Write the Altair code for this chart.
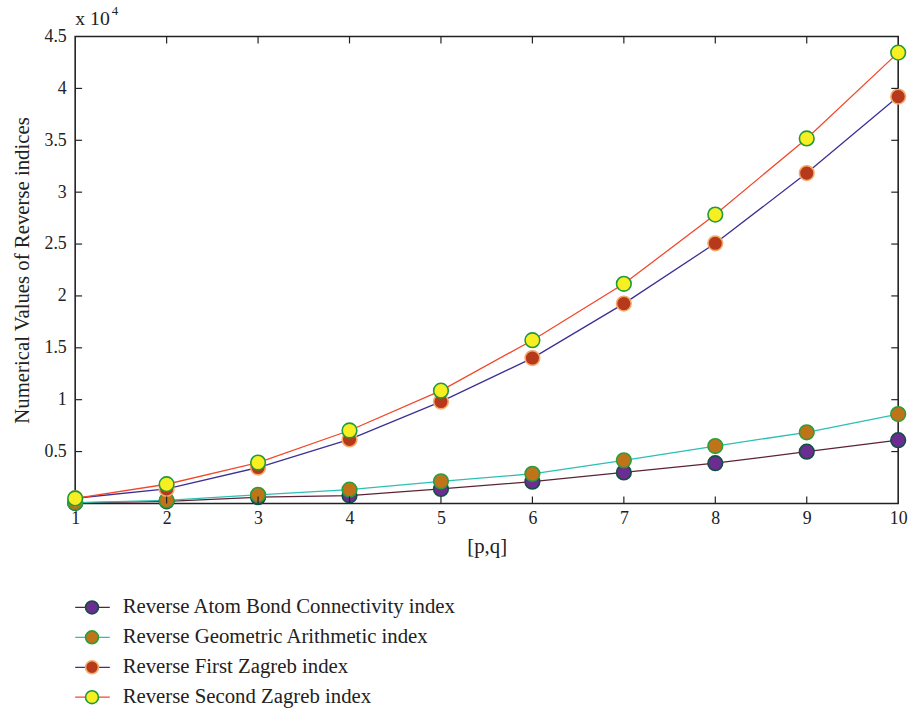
import altair as alt
import pandas as pd

# [p,q] positions along the x axis
pq = [1, 2, 3, 4, 5, 6, 7, 8, 9, 10]

series_names = [
    "Reverse Atom Bond Connectivity index",
    "Reverse Geometric Arithmetic index",
    "Reverse First Zagreb index",
    "Reverse Second Zagreb index",
]

abc_vals = [50, 200, 600, 760, 1400, 2100, 2990, 3880, 4990, 6100]
ga_vals = [70, 290, 830, 1330, 2130, 2860, 4160, 5530, 6860, 8610]
fz_vals = [500, 1400, 3460, 6170, 9820, 14010, 19260, 25070, 31840, 39210]
sz_vals = [480, 1850, 3940, 7030, 10870, 15730, 21170, 27840, 35180, 43450]

line_colors = ["#5b2333", "#2bbfb5", "#3c2f96", "#f2482a"]
fill_colors = ["#6b2d8f", "#c0741a", "#b5391a", "#f7ef22"]
edge_colors = ["#0f5040", "#2a9d3c", "#f5a96a", "#1f9a3c"]

x_ticks = [2, 3, 4, 5, 6, 7, 8, 9]
y_ticks = [5000, 10000, 15000, 20000, 25000, 30000, 35000, 40000]

FONT = "Liberation Serif"
INK = "#222222"
W, H = 832, 472

rows = []
for name, vals in zip(series_names, [abc_vals, ga_vals, fz_vals, sz_vals]):
    for p, v in zip(pq, vals):
        rows.append({"series": name, "pq": p, "value": v})
df = pd.DataFrame(rows)

x_scale = alt.Scale(domain=[1, 10], nice=False, zero=False)
y_scale = alt.Scale(domain=[0, 45000], nice=False, zero=True)

stroke_scale = alt.Scale(domain=series_names, range=line_colors)
fill_scale = alt.Scale(domain=series_names, range=fill_colors)
edge_scale = alt.Scale(domain=series_names, range=edge_colors)

x_enc = alt.X(
    "pq:Q",
    scale=x_scale,
    axis=alt.Axis(
        values=pq, format="d", ticks=False, domain=False, grid=False,
        title="[p,q]",
        labelFont=FONT, labelFontSize=18, labelColor=INK, labelPadding=6,
        labelFlush=False,
        titleFont=FONT, titleFontSize=21, titleFontWeight="normal",
        titleColor=INK, titlePadding=9,
    ),
)
y_enc = alt.Y(
    "value:Q",
    scale=y_scale,
    axis=alt.Axis(
        values=y_ticks + [45000], ticks=False, domain=False, grid=False,
        labelExpr="datum.value / 10000",
        title="Numerical Values of Reverse indices",
        labelFont=FONT, labelFontSize=18, labelColor=INK, labelPadding=9,
        titleFont=FONT, titleFontSize=21, titleFontWeight="normal",
        titleColor=INK, titlePadding=12,
    ),
)

base = alt.Chart(df)

lines = base.mark_line(strokeWidth=1.3).encode(
    x=x_enc,
    y=y_enc,
    stroke=alt.Stroke("series:N", scale=stroke_scale, legend=None),
    detail="series:N",
)

points = base.mark_point(filled=True, size=220, opacity=1, strokeWidth=1.6).encode(
    x=alt.X("pq:Q", scale=x_scale),
    y=alt.Y("value:Q", scale=y_scale),
    fill=alt.Fill("series:N", scale=fill_scale, legend=None),
    stroke=alt.Stroke("series:N", scale=edge_scale, legend=None),
)

# inward tick marks on all four sides of the frame
xt = pd.DataFrame({"t": x_ticks})
yt = pd.DataFrame({"t": y_ticks})
tick_style = dict(color=INK, strokeWidth=1.2)
bottom_ticks = alt.Chart(xt).mark_rule(**tick_style).encode(
    x=alt.X("t:Q", scale=x_scale), y=alt.value(H - 7), y2=alt.value(H))
top_ticks = alt.Chart(xt).mark_rule(**tick_style).encode(
    x=alt.X("t:Q", scale=x_scale), y=alt.value(0), y2=alt.value(7))
left_ticks = alt.Chart(yt).mark_rule(**tick_style).encode(
    y=alt.Y("t:Q", scale=y_scale), x=alt.value(0), x2=alt.value(7))
right_ticks = alt.Chart(yt).mark_rule(**tick_style).encode(
    y=alt.Y("t:Q", scale=y_scale), x=alt.value(W - 7), x2=alt.value(W))

# exponent note above the y axis
exp_df = pd.DataFrame({"txt": ["x 10"], "sup": ["4"]})
exp_base = alt.Chart(exp_df).mark_text(
    font=FONT, fontSize=20, align="left", baseline="alphabetic", color=INK
).encode(x=alt.value(0), y=alt.value(-12), text="txt:N")
exp_sup = alt.Chart(exp_df).mark_text(
    font=FONT, fontSize=13, align="left", baseline="alphabetic", color=INK
).encode(x=alt.value(37), y=alt.value(-22), text="sup:N")

main = alt.layer(
    lines, points, bottom_ticks, top_ticks, left_ticks, right_ticks,
    exp_base, exp_sup,
).resolve_scale(stroke="independent").properties(
    width=W, height=H,
    view=alt.ViewBackground(stroke=INK, strokeWidth=1.6),
)

# legend rows below the plot
leg_df = pd.DataFrame({"series": series_names})
leg_y = alt.Y("series:N", sort=series_names, axis=None,
              scale=alt.Scale(type="point", domain=series_names, padding=0.5))
leg_line = alt.Chart(leg_df).mark_rule(strokeWidth=1.3).encode(
    y=leg_y, x=alt.value(0), x2=alt.value(35),
    stroke=alt.Stroke("series:N", scale=stroke_scale, legend=None),
)
leg_pt = alt.Chart(leg_df).mark_point(filled=True, size=170, opacity=1, strokeWidth=1.6).encode(
    y=leg_y, x=alt.value(17),
    fill=alt.Fill("series:N", scale=fill_scale, legend=None),
    stroke=alt.Stroke("series:N", scale=edge_scale, legend=None),
)
leg_txt = alt.Chart(leg_df).mark_text(
    font=FONT, fontSize=21, align="left", baseline="middle", color=INK
).encode(y=leg_y, x=alt.value(48), text="series:N")

legend = alt.layer(leg_line, leg_pt, leg_txt).resolve_scale(
    stroke="independent"
).properties(
    width=W, height=121,
    view=alt.ViewBackground(stroke=None),
)

chart = alt.vconcat(main, legend, spacing=35).resolve_scale(
    stroke="independent", fill="independent", y="independent"
).properties(
    padding={"left": 10, "top": 0, "right": 5, "bottom": 5},
)

chart.save("out.html", embed_options={"renderer": "svg", "actions": False})
